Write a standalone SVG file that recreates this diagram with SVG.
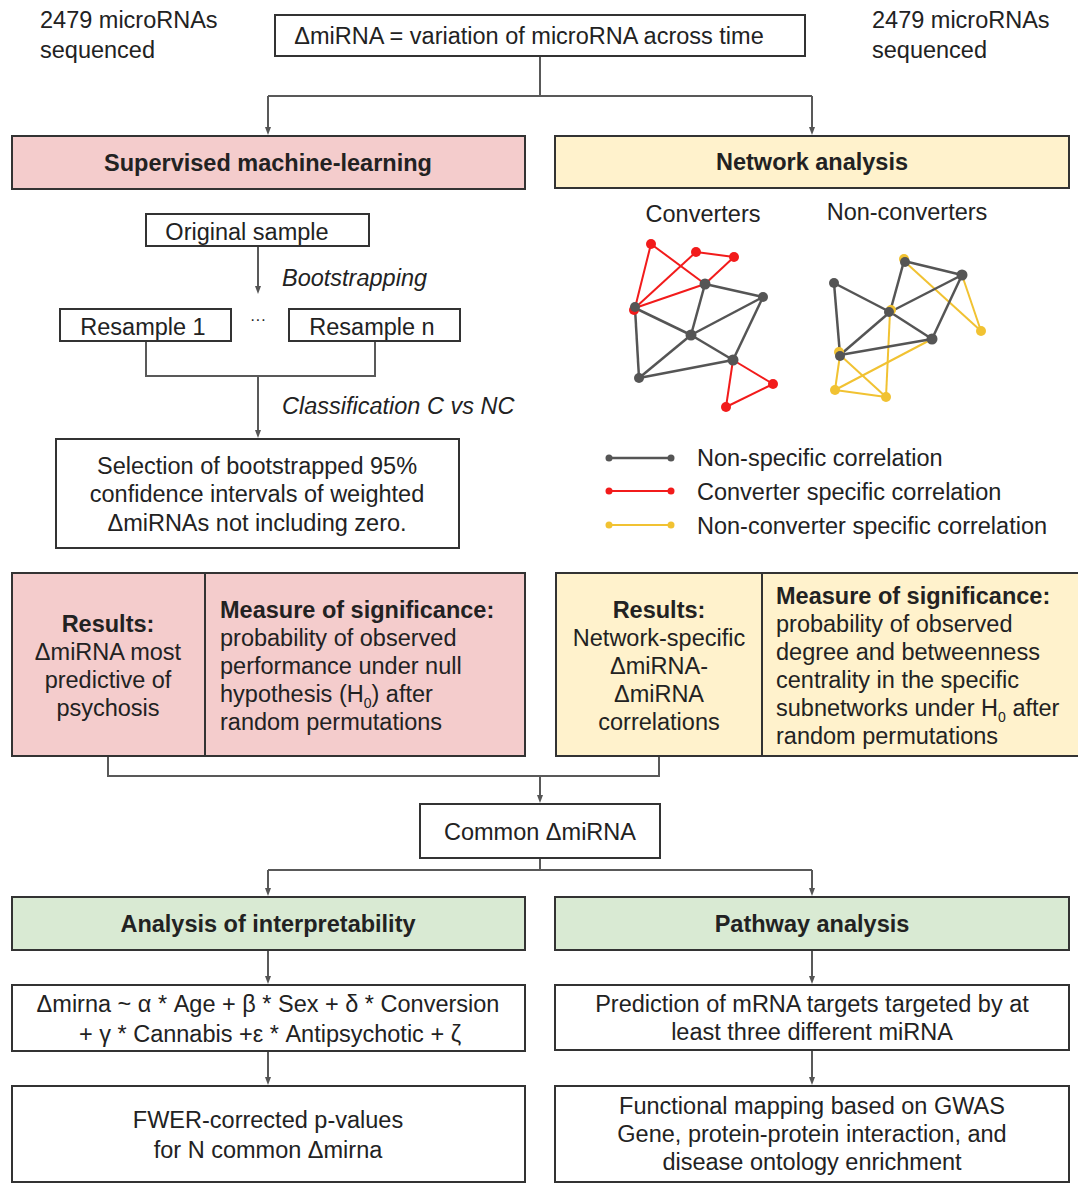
<svg xmlns="http://www.w3.org/2000/svg" width="1078" height="1190" viewBox="0 0 1078 1190">
<defs>
<marker id="arr" markerWidth="8" markerHeight="8" refX="4" refY="4" orient="auto" markerUnits="userSpaceOnUse">
<path d="M0,1 L8,4 L0,7 Z" fill="#555"/>
</marker>
<style>
text{font-family:"Liberation Sans",Arial,sans-serif;font-size:23.5px;fill:#222}
.b{font-weight:bold}
.i{font-style:italic}
.m{text-anchor:middle}
.box{stroke:#333;stroke-width:2;fill:#fff}
.pink{fill:#f4cccc}
.yel{fill:#fff2cc}
.grn{fill:#d9ead3}
.con{stroke:#595959;stroke-width:2;fill:none}
.g{stroke:#555;stroke-width:2.5}
.r{stroke:#f21b1b;stroke-width:2}
.y{stroke:#f1c232;stroke-width:2}
.ng{fill:#555}
.nr{fill:#f21b1b}
.ny{fill:#f1c232}
.sub{font-size:14px}
</style>
</defs>
<rect width="1078" height="1190" fill="#fff"/>

<g id="connectors">
<path class="con" d="M540,56 V96 M268,96 H812"/>
<path class="con" d="M268,96 V131" marker-end="url(#arr)"/>
<path class="con" d="M812,96 V131" marker-end="url(#arr)"/>
<path class="con" d="M258,246 V290" marker-end="url(#arr)"/>
<path class="con" d="M146,341 V376 H375 V341"/>
<path class="con" d="M258,376 V434" marker-end="url(#arr)"/>
<path class="con" d="M108,756 V776 H659 V756"/>
<path class="con" d="M540,776 V799" marker-end="url(#arr)"/>
<path class="con" d="M540,858 V870 M268,870 H812"/>
<path class="con" d="M268,870 V892" marker-end="url(#arr)"/>
<path class="con" d="M812,870 V892" marker-end="url(#arr)"/>
<path class="con" d="M268,950 V980" marker-end="url(#arr)"/>
<path class="con" d="M812,950 V980" marker-end="url(#arr)"/>
<path class="con" d="M268,1051 V1081" marker-end="url(#arr)"/>
<path class="con" d="M812,1050 V1081" marker-end="url(#arr)"/>
</g>

<g id="label-left-top">
<text x="40" y="28">2479 microRNAs</text>
<text x="40" y="58">sequenced</text>
</g>
<g id="label-right-top">
<text x="872" y="28">2479 microRNAs</text>
<text x="872" y="58">sequenced</text>
</g>

<g id="node-delta">
<rect class="box" x="275" y="15" width="530" height="41"/>
<text class="m" x="529" y="44">ΔmiRNA = variation of microRNA across time</text>
</g>

<g id="node-supervised">
<rect class="box pink" x="12" y="136" width="513" height="53"/>
<text class="m b" x="268" y="171">Supervised machine-learning</text>
</g>

<g id="node-network">
<rect class="box yel" x="555" y="136" width="514" height="52"/>
<text class="m b" x="812" y="170">Network analysis</text>
</g>

<g id="node-original">
<rect class="box" x="146" y="214" width="223" height="32"/>
<text class="m" x="247" y="240">Original sample</text>
</g>
<text class="i" x="282" y="286">Bootstrapping</text>

<g id="node-resample1">
<rect class="box" x="60" y="309" width="171" height="32"/>
<text class="m" x="143" y="335">Resample 1</text>
</g>
<text class="m" x="258" y="325" style="font-size:16px">···</text>
<g id="node-resamplen">
<rect class="box" x="289" y="309" width="171" height="32"/>
<text class="m" x="372" y="335">Resample n</text>
</g>
<text class="i" x="282" y="414">Classification C vs NC</text>

<g id="node-selection">
<rect class="box" x="56" y="439" width="403" height="109"/>
<text class="m" x="257" y="474">Selection of bootstrapped 95%</text>
<text class="m" x="257" y="502">confidence intervals of weighted</text>
<text class="m" x="257" y="531">ΔmiRNAs not including zero.</text>
</g>

<g id="node-converters">
<text class="m" x="703" y="222">Converters</text>
<g>
<line class="r" x1="651" y1="244" x2="635" y2="308"/>
<line class="r" x1="651" y1="244" x2="705" y2="284"/>
<line class="r" x1="696" y1="252" x2="635" y2="308"/>
<line class="r" x1="696" y1="252" x2="734" y2="257"/>
<line class="r" x1="734" y1="257" x2="705" y2="284"/>
<line class="r" x1="635" y1="308" x2="705" y2="284"/>
<line class="r" x1="733" y1="360" x2="773" y2="384"/>
<line class="r" x1="773" y1="384" x2="726" y2="407"/>
<line class="r" x1="726" y1="407" x2="733" y2="360"/>
<line class="g" x1="705" y1="284" x2="763" y2="297"/>
<line class="g" x1="705" y1="284" x2="691" y2="335"/>
<line class="g" x1="635" y1="308" x2="691" y2="335"/>
<line class="g" x1="635" y1="308" x2="639" y2="378"/>
<line class="g" x1="691" y1="335" x2="763" y2="297"/>
<line class="g" x1="691" y1="335" x2="733" y2="360"/>
<line class="g" x1="763" y1="297" x2="733" y2="360"/>
<line class="g" x1="639" y1="378" x2="691" y2="335"/>
<line class="g" x1="639" y1="378" x2="733" y2="360"/>
<circle class="nr" cx="651" cy="244" r="5"/>
<circle class="nr" cx="696" cy="252" r="5"/>
<circle class="nr" cx="734" cy="257" r="5"/>
<circle class="nr" cx="634" cy="310" r="5"/>
<circle class="ng" cx="635" cy="307" r="5"/>
<circle class="ng" cx="705" cy="284" r="5.5"/>
<circle class="ng" cx="763" cy="297" r="5"/>
<circle class="ng" cx="691" cy="335" r="5.5"/>
<circle class="ng" cx="733" cy="360" r="5.5"/>
<circle class="ng" cx="639" cy="378" r="5"/>
<circle class="nr" cx="773" cy="384" r="5"/>
<circle class="nr" cx="726" cy="407" r="5"/>
</g>
</g>

<g id="node-nonconverters">
<text class="m" x="907" y="220">Non-converters</text>
<g>
<line class="y" x1="904" y1="261" x2="981" y2="331"/>
<line class="y" x1="962" y1="275" x2="981" y2="331"/>
<line class="y" x1="890" y1="312" x2="886" y2="397"/>
<line class="y" x1="840" y1="355" x2="886" y2="397"/>
<line class="y" x1="840" y1="355" x2="835" y2="390"/>
<line class="y" x1="835" y1="390" x2="886" y2="397"/>
<line class="y" x1="835" y1="390" x2="932" y2="339"/>
<line class="g" x1="904" y1="261" x2="962" y2="275"/>
<line class="g" x1="904" y1="261" x2="890" y2="312"/>
<line class="g" x1="834" y1="283" x2="890" y2="312"/>
<line class="g" x1="834" y1="283" x2="840" y2="355"/>
<line class="g" x1="890" y1="312" x2="962" y2="275"/>
<line class="g" x1="890" y1="312" x2="932" y2="339"/>
<line class="g" x1="962" y1="275" x2="932" y2="339"/>
<line class="g" x1="840" y1="355" x2="890" y2="312"/>
<line class="g" x1="840" y1="355" x2="932" y2="339"/>
<circle class="ny" cx="904" cy="259" r="5"/>
<circle class="ng" cx="905" cy="262" r="5"/>
<circle class="ng" cx="962" cy="275" r="5.5"/>
<circle class="ng" cx="834" cy="283" r="5"/>
<circle class="ny" cx="891" cy="310" r="5"/>
<circle class="ng" cx="889" cy="312" r="5"/>
<circle class="ny" cx="981" cy="331" r="5"/>
<circle class="ng" cx="932" cy="339" r="5.5"/>
<circle class="ny" cx="839" cy="352" r="5"/>
<circle class="ng" cx="840" cy="356" r="5"/>
<circle class="ny" cx="835" cy="390" r="5"/>
<circle class="ny" cx="886" cy="397" r="5"/>
</g>
</g>

<g id="legend">
<line class="g" x1="609" y1="458" x2="671" y2="458" style="stroke-width:2.5"/>
<circle class="ng" cx="609" cy="458" r="3.5"/><circle class="ng" cx="671" cy="458" r="3.5"/>
<text x="697" y="466">Non-specific correlation</text>
<line class="r" x1="609" y1="491" x2="671" y2="491"/>
<circle class="nr" cx="609" cy="491" r="3.5"/><circle class="nr" cx="671" cy="491" r="3.5"/>
<text x="697" y="500">Converter specific correlation</text>
<line class="y" x1="609" y1="525" x2="671" y2="525"/>
<circle class="ny" cx="609" cy="525" r="3.5"/><circle class="ny" cx="671" cy="525" r="3.5"/>
<text x="697" y="534">Non-converter specific correlation</text>
</g>

<g id="node-results-ml">
<rect class="box pink" x="12" y="573" width="513" height="183"/>
<line x1="205" y1="573" x2="205" y2="756" stroke="#333" stroke-width="2"/>
<text class="m b" x="108" y="632">Results:</text>
<text class="m" x="108" y="660">ΔmiRNA most</text>
<text class="m" x="108" y="688">predictive of</text>
<text class="m" x="108" y="716">psychosis</text>
<text class="b" x="220" y="618">Measure of significance:</text>
<text x="220" y="646">probability of observed</text>
<text x="220" y="674">performance under null</text>
<text x="220" y="702">hypothesis (H<tspan class="sub" dy="6">0</tspan><tspan dy="-6">) after</tspan></text>
<text x="220" y="730">random permutations</text>
</g>

<g id="node-results-net">
<rect class="box yel" x="556" y="573" width="530" height="183"/>
<line x1="762" y1="573" x2="762" y2="756" stroke="#333" stroke-width="2"/>
<text class="m b" x="659" y="618">Results:</text>
<text class="m" x="659" y="646">Network-specific</text>
<text class="m" x="659" y="674">ΔmiRNA-</text>
<text class="m" x="659" y="702">ΔmiRNA</text>
<text class="m" x="659" y="730">correlations</text>
<text class="b" x="776" y="604">Measure of significance:</text>
<text x="776" y="632">probability of observed</text>
<text x="776" y="660">degree and betweenness</text>
<text x="776" y="688">centrality in the specific</text>
<text x="776" y="716">subnetworks under H<tspan class="sub" dy="6">0</tspan><tspan dy="-6"> after</tspan></text>
<text x="776" y="744">random permutations</text>
</g>

<g id="node-common">
<rect class="box" x="420" y="804" width="240" height="54"/>
<text class="m" x="540" y="840">Common ΔmiRNA</text>
</g>

<g id="node-interpret">
<rect class="box grn" x="12" y="897" width="513" height="53"/>
<text class="m b" x="268" y="932">Analysis of interpretability</text>
</g>
<g id="node-pathway">
<rect class="box grn" x="555" y="897" width="514" height="53"/>
<text class="m b" x="812" y="932">Pathway analysis</text>
</g>

<g id="node-formula">
<rect class="box" x="12" y="985" width="513" height="66"/>
<text class="m" x="268" y="1012">Δmirna ~ α * Age + β * Sex + δ * Conversion</text>
<text class="m" x="270" y="1042">+ γ * Cannabis +ε * Antipsychotic + ζ</text>
</g>
<g id="node-prediction">
<rect class="box" x="555" y="985" width="514" height="65"/>
<text class="m" x="812" y="1012">Prediction of mRNA targets targeted by at</text>
<text class="m" x="812" y="1040">least three different miRNA</text>
</g>

<g id="node-fwer">
<rect class="box" x="12" y="1086" width="513" height="96"/>
<text class="m" x="268" y="1128">FWER-corrected p-values</text>
<text class="m" x="268" y="1158">for N common Δmirna</text>
</g>
<g id="node-functional">
<rect class="box" x="555" y="1086" width="514" height="96"/>
<text class="m" x="812" y="1114">Functional mapping based on GWAS</text>
<text class="m" x="812" y="1142">Gene, protein-protein interaction, and</text>
<text class="m" x="812" y="1170">disease ontology enrichment</text>
</g>
</svg>
